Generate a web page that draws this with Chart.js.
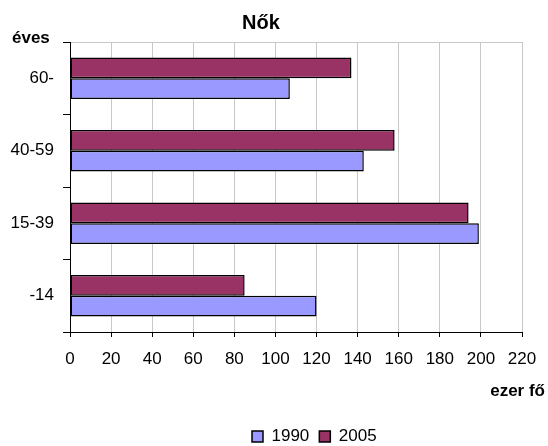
<!DOCTYPE html>
<html>
<head>
<meta charset="utf-8">
<script src="https://cdn.jsdelivr.net/npm/chart.js@4/dist/chart.umd.min.js"></script>
<style>
html,body{margin:0;padding:0;background:#fff;}
canvas{display:block;}
</style>
</head>
<body>
<canvas id="c" width="548" height="446"></canvas>
<script>
const chartTitle = 'Nők';
const yAxisTitle = 'éves';
const xAxisTitle = 'ezer fő';
const categories = ['60-', '40-59', '15-39', '-14'];
const seriesNames = ['1990', '2005'];
const values1990 = [107, 143, 199, 120];
const values2005 = [137, 158, 194, 85];
const xTickValues = [0, 20, 40, 60, 80, 100, 120, 140, 160, 180, 200, 220];

const FONT = "'Liberation Sans', Arial, sans-serif";
Chart.defaults.font.family = FONT;
Chart.defaults.color = '#000';

const extraText = {
  id: 'extraText',
  afterUpdate(chart) {
    const lg = chart.legend;
    if (lg) {
      const w = lg.width, h = lg.height;
      lg.left = 242; lg.right = lg.left + w;
      lg.top = 418; lg.bottom = lg.top + h;
      if (lg.adjustHitBoxes) lg.adjustHitBoxes();
    }
  },
  afterDraw(chart) {
    const ctx = chart.ctx;
    ctx.save();
    ctx.fillStyle = '#000';
    ctx.textBaseline = 'alphabetic';
    ctx.font = 'bold 17px ' + FONT;
    ctx.textAlign = 'left';
    ctx.fillText(yAxisTitle, 12, 43);
    ctx.font = 'bold 17px ' + FONT;
    ctx.textAlign = 'right';
    ctx.fillText(xAxisTitle, 545, 396);
    ctx.restore();
  }
};

new Chart(document.getElementById('c'), {
  type: 'bar',
  data: {
    labels: categories,
    datasets: [
      { label: seriesNames[1], data: values2005, backgroundColor: '#993366', borderColor: '#000', borderWidth: 1.5, borderSkipped: false },
      { label: seriesNames[0], data: values1990, backgroundColor: '#9999FF', borderColor: '#000', borderWidth: 1.5, borderSkipped: false }
    ]
  },
  options: {
    indexAxis: 'y',
    responsive: false,
    animation: false,
    layout: { padding: { left: 0, right: 26, top: 0, bottom: 0 } },
    datasets: { bar: { categoryPercentage: 0.57, barPercentage: 1.0 } },
    plugins: {
      title: { display: true, text: chartTitle, font: { size: 20, weight: 'bold' }, color: '#000', padding: { top: 11, bottom: 7 } },
      legend: {
        display: true, position: 'bottom', align: 'start', reverse: true,
        labels: { boxWidth: 11, boxHeight: 11, padding: 10, font: { size: 17 }, color: '#000' }
      },
      tooltip: { enabled: false }
    },
    scales: {
      x: {
        min: 0, max: 220,
        afterBuildTicks(scale) { scale.ticks = xTickValues.map(v => ({ value: v })); },
        afterFit(scale) { scale.height = 77; scale.paddingLeft = 0; scale.paddingRight = 0; },
        ticks: { font: { size: 17 }, color: '#000', padding: 12, maxRotation: 0, autoSkip: false },
        grid: { color: '#c8c8c8', lineWidth: 1, tickColor: '#000', tickLength: 5, drawTicks: true },
        border: { color: '#000', width: 1 }
      },
      y: {
        afterFit(scale) { scale.width = 70; scale.paddingTop = 0; scale.paddingBottom = 0; },
        ticks: { font: { size: 17 }, color: '#000', padding: 9 },
        grid: {
          offset: true,
          color: (ctx) => (ctx.index === 0 ? '#c8c8c8' : 'rgba(0,0,0,0)'),
          tickColor: '#000', tickLength: 7, drawTicks: true
        },
        border: { color: '#000', width: 1 }
      }
    }
  },
  plugins: [extraText]
});
</script>
</body>
</html>
